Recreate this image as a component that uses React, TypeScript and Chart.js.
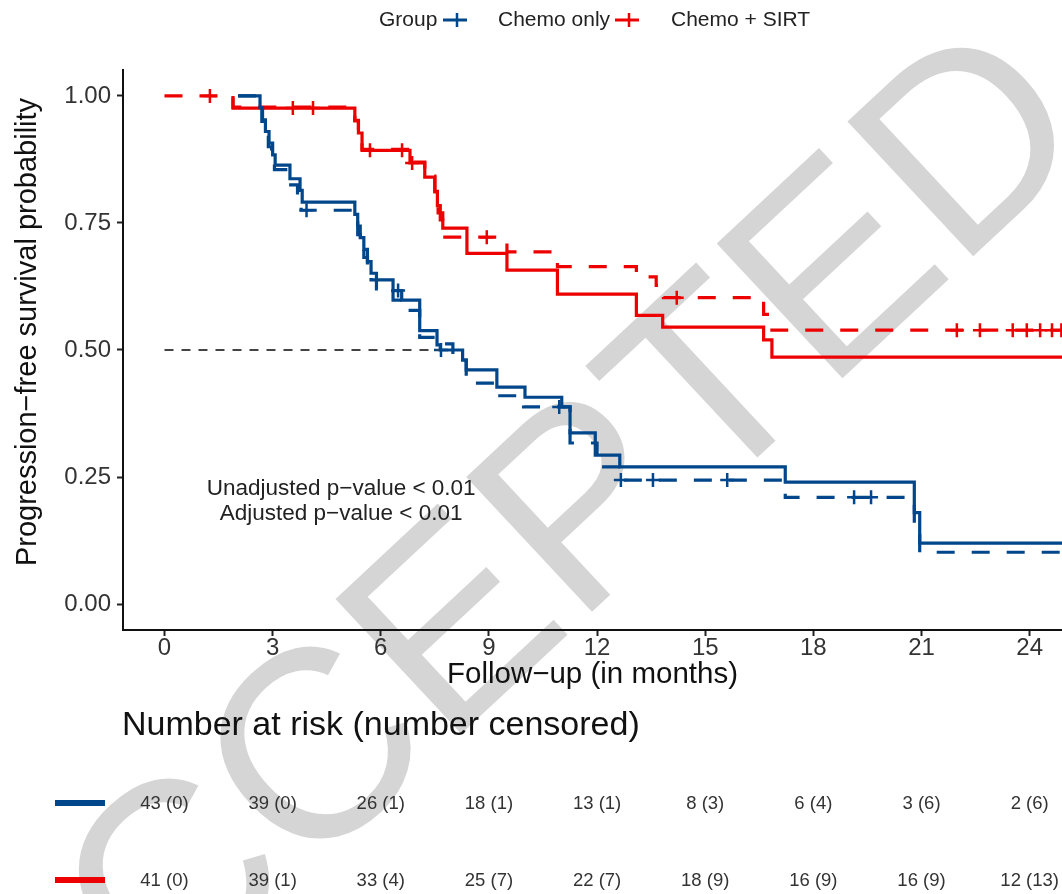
import React, { useEffect, useRef } from "react";
import { Chart, registerables } from "chart.js";

Chart.register(...registerables);

const FONT = '"Liberation Sans", Arial, Helvetica, sans-serif';
const BLUE = "#00468B";
const RED = "#ED0000";

// ---- axis ticks ----
const xTicks = [0, 3, 6, 9, 12, 15, 18, 21, 24];
const yTicks = [0, 0.25, 0.5, 0.75, 1];

// ---- Chemo only (unadjusted KM, solid) ----
const chemoOnlyTimes = [2.04, 2.65, 2.72, 2.8, 2.9, 3.0, 3.07, 3.48, 3.76, 3.82, 5.28, 5.36, 5.43, 5.53, 5.63, 5.73, 5.88, 6.34, 6.58, 7.08, 7.56, 7.65, 8.27, 8.37, 9.22, 10.0, 11.02, 11.25, 11.95, 12.63, 17.22, 20.8, 20.95, 25.0];
const chemoOnlySurv = [1.0, 0.977, 0.953, 0.93, 0.907, 0.884, 0.864, 0.837, 0.814, 0.791, 0.767, 0.744, 0.721, 0.698, 0.674, 0.651, 0.638, 0.617, 0.598, 0.538, 0.51, 0.5, 0.48, 0.461, 0.427, 0.407, 0.388, 0.337, 0.293, 0.27, 0.24, 0.18, 0.12, 0.12];

// ---- Chemo only (adjusted, dashed) ----
const chemoOnlyAdjTimes = [2.04, 2.62, 2.7, 2.78, 2.88, 2.97, 3.05, 3.44, 3.69, 3.79, 5.28, 5.36, 5.43, 5.53, 5.63, 5.73, 5.88, 6.34, 6.58, 7.08, 7.56, 8.0, 8.37, 9.22, 9.96, 11.25, 12.0, 12.59, 17.22, 20.8, 20.95, 25.0];
const chemoOnlyAdjSurv = [1.0, 0.975, 0.95, 0.925, 0.9, 0.875, 0.855, 0.825, 0.8, 0.775, 0.75, 0.727, 0.705, 0.682, 0.66, 0.638, 0.62, 0.598, 0.578, 0.525, 0.512, 0.48, 0.435, 0.41, 0.388, 0.317, 0.27, 0.244, 0.21, 0.15, 0.102, 0.102];

// ---- Chemo + SIRT (unadjusted KM, solid) ----
const sirtTimes = [1.9, 1.9, 5.28, 5.38, 5.48, 6.81, 7.22, 7.5, 7.57, 7.65, 7.72, 8.39, 9.5, 10.9, 13.09, 13.82, 16.62, 16.85, 25.0];
const sirtSurv = [1.0, 0.976, 0.951, 0.927, 0.893, 0.868, 0.84, 0.812, 0.784, 0.756, 0.74, 0.69, 0.657, 0.61, 0.568, 0.545, 0.52, 0.486, 0.486];

// ---- Chemo + SIRT (adjusted, dashed) ----
const sirtAdjTimes = [0, 1.9, 5.28, 5.38, 5.48, 6.81, 7.22, 7.5, 7.59, 7.72, 9.5, 10.9, 13.09, 13.64, 13.84, 16.62, 16.85, 25.0];
const sirtAdjSurv = [1.0, 0.978, 0.952, 0.928, 0.895, 0.87, 0.842, 0.8, 0.77, 0.722, 0.693, 0.664, 0.644, 0.627, 0.603, 0.57, 0.539, 0.539];

// ---- censoring marks ----
const chemoOnlyCensorTimes = [3.94, 6.48, 7.67, 10.95, 12.66, 13.55, 15.61, 19.13, 19.6];
const chemoOnlyCensorSurv = [0.775, 0.617, 0.5, 0.388, 0.244, 0.244, 0.244, 0.21, 0.21];
const sirtCensorTimes = [1.26, 3.56, 4.12, 5.7, 6.59, 6.87, 8.94, 14.21, 21.98, 22.62, 23.53, 23.92, 24.29, 24.62, 24.88];
const sirtCensorSurv = [1.0, 0.976, 0.976, 0.893, 0.893, 0.868, 0.722, 0.603, 0.539, 0.539, 0.539, 0.539, 0.539, 0.539, 0.539];

// ---- median reference line ----
const medianTimes = [0, 7.6];
const medianSurv = [0.5, 0.5];

// ---- number at risk table ----
const riskChemoOnly = [43, 39, 26, 18, 13, 8, 6, 3, 2];
const censChemoOnly = [0, 0, 1, 1, 1, 3, 4, 6, 6];
const riskSirt = [41, 39, 33, 25, 22, 18, 16, 16, 12];
const censSirt = [0, 1, 4, 7, 7, 9, 9, 9, 13];

const groupNames = ["Chemo only", "Chemo + SIRT"];
const pValueLines = ["Unadjusted p\u2212value < 0.01", "Adjusted p\u2212value < 0.01"];

const toPts = (t: number[], s: number[]) => t.map((v, i) => ({ x: v, y: s[i] }));

export default function App() {
  const ref = useRef<HTMLCanvasElement>(null);

  useEffect(() => {
    const canvas = ref.current!;

    const overlay = {
      id: "overlay",
      beforeDraw(chart: any) {
        const ctx = chart.ctx;
        ctx.save();
        ctx.fillStyle = "#ffffff";
        ctx.fillRect(0, 0, chart.width, chart.height);
        ctx.translate(565, 637);
        ctx.rotate((-43 * Math.PI) / 180);
        ctx.font = `268px ${FONT}`;
        ctx.fillStyle = "#d5d5d5";
        ctx.textAlign = "center";
        ctx.textBaseline = "alphabetic";
        ctx.fillText("ACCEPTED", 0, 0);
        ctx.restore();
      },
      afterDraw(chart: any) {
        const ctx = chart.ctx;
        const xs = chart.scales.x;
        const ys = chart.scales.y;
        const area = chart.chartArea;
        ctx.save();

        // y axis title
        ctx.save();
        ctx.translate(28, 332);
        ctx.rotate(-Math.PI / 2);
        ctx.font = `29px ${FONT}`;
        ctx.fillStyle = "#111";
        ctx.textAlign = "center";
        ctx.textBaseline = "middle";
        ctx.fillText("Progression\u2212free survival probability", 0, 0);
        ctx.restore();

        // legend
        ctx.textBaseline = "middle";
        ctx.textAlign = "left";
        ctx.font = `21px ${FONT}`;
        ctx.fillStyle = "#222";
        const ly = 20;
        ctx.fillText("Group", 379, ly);
        const sym = (cx: number, color: string) => {
          ctx.strokeStyle = color;
          ctx.lineWidth = 3;
          ctx.beginPath();
          ctx.moveTo(cx - 12, ly);
          ctx.lineTo(cx + 12, ly);
          ctx.stroke();
          ctx.lineWidth = 2.5;
          ctx.beginPath();
          ctx.moveTo(cx + 2, ly - 7);
          ctx.lineTo(cx + 2, ly + 7);
          ctx.stroke();
        };
        sym(455, BLUE);
        ctx.fillText(groupNames[0], 498, ly);
        sym(627, RED);
        ctx.fillText(groupNames[1], 671, ly);

        // p-values
        ctx.font = `22.5px ${FONT}`;
        ctx.textAlign = "center";
        ctx.fillStyle = "#222";
        ctx.fillText(pValueLines[0], xs.getPixelForValue(4.9), ys.getPixelForValue(0.226));
        ctx.fillText(pValueLines[1], xs.getPixelForValue(4.9), ys.getPixelForValue(0.177));

        // risk table
        ctx.textAlign = "left";
        ctx.font = `34px ${FONT}`;
        ctx.fillStyle = "#111";
        ctx.fillText("Number at risk (number censored)", area.left - 1, 726);

        const rows = [
          { y: 803, color: BLUE, risk: riskChemoOnly, cens: censChemoOnly },
          { y: 880, color: RED, risk: riskSirt, cens: censSirt },
        ];
        rows.forEach((r) => {
          ctx.strokeStyle = r.color;
          ctx.lineWidth = 6;
          ctx.beginPath();
          ctx.moveTo(55, r.y);
          ctx.lineTo(105, r.y);
          ctx.stroke();
          ctx.font = `18.5px ${FONT}`;
          ctx.fillStyle = "#333";
          ctx.textAlign = "center";
          xTicks.forEach((t, i) => {
            ctx.fillText(`${r.risk[i]} (${r.cens[i]})`, xs.getPixelForValue(t), r.y + 1);
          });
        });
        ctx.restore();
      },
    };

    const kmLine = (label: string, t: number[], s: number[], color: string, dashed: boolean) => ({
      type: "line" as const,
      label,
      data: toPts(t, s),
      borderColor: color,
      backgroundColor: color,
      borderWidth: 3.2,
      borderDash: dashed ? [18, 17] : [],
      stepped: true,
      pointRadius: 0,
      fill: false,
    });
    const censor = (label: string, t: number[], s: number[], color: string) => ({
      type: "scatter" as const,
      label,
      data: toPts(t, s),
      borderColor: color,
      backgroundColor: color,
      pointStyle: "cross",
      pointRadius: 7,
      pointBorderWidth: 2.5,
      borderWidth: 2.5,
      showLine: false,
    });

    const chart = new Chart(canvas, {
      type: "line",
      data: {
        datasets: [
          {
            type: "line",
            label: "median",
            data: toPts(medianTimes, medianSurv),
            borderColor: "#444",
            borderWidth: 2,
            borderDash: [9, 8],
            pointRadius: 0,
            fill: false,
          },
          kmLine("Chemo only", chemoOnlyTimes, chemoOnlySurv, BLUE, false),
          kmLine("Chemo only (adjusted)", chemoOnlyAdjTimes, chemoOnlyAdjSurv, BLUE, true),
          kmLine("Chemo + SIRT", sirtTimes, sirtSurv, RED, false),
          kmLine("Chemo + SIRT (adjusted)", sirtAdjTimes, sirtAdjSurv, RED, true),
          censor("Chemo only censored", chemoOnlyCensorTimes, chemoOnlyCensorSurv, BLUE),
          censor("Chemo + SIRT censored", sirtCensorTimes, sirtCensorSurv, RED),
        ] as any,
      },
      options: {
        animation: false,
        responsive: false,
        devicePixelRatio: 1,
        layout: { autoPadding: false, padding: { top: 70, left: 0, right: 0, bottom: 0 } },
        plugins: { legend: { display: false }, tooltip: { enabled: false } },
        scales: {
          x: {
            type: "linear",
            min: -1.151,
            max: 24.897,
            afterFit: (s: any) => {
              s.height = 264;
            },
            afterBuildTicks: (s: any) => {
              s.ticks = xTicks.map((v) => ({ value: v }));
            },
            ticks: {
              font: { family: FONT, size: 24, lineHeight: 1 },
              color: "#333",
              padding: 0,
              autoSkip: false,
              maxRotation: 0,
              callback: (v: any) => String(v),
            },
            grid: { display: true, drawOnChartArea: false, drawTicks: true, tickLength: 6, tickWidth: 2, tickColor: "#222" },
            border: { display: true, color: "#111", width: 2 },
            title: {
              display: true,
              text: "Follow\u2212up (in months)",
              font: { family: FONT, size: 29.5 },
              color: "#111",
              padding: { top: 0, bottom: 201 },
            },
          },
          y: {
            type: "linear",
            min: -0.051,
            max: 1.051,
            afterFit: (s: any) => {
              s.width = 123;
            },
            afterBuildTicks: (s: any) => {
              s.ticks = yTicks.map((v) => ({ value: v }));
            },
            ticks: {
              font: { family: FONT, size: 24, lineHeight: 1 },
              color: "#333",
              padding: 6,
              callback: (v: any) => Number(v).toFixed(2),
            },
            grid: { display: true, drawOnChartArea: false, drawTicks: true, tickLength: 6, tickWidth: 2, tickColor: "#222" },
            border: { display: true, color: "#111", width: 2 },
            title: { display: false },
          },
        },
      } as any,
      plugins: [overlay],
    });

    return () => chart.destroy();
  }, []);

  return (
    <div style={{ position: "absolute", left: 0, top: 0, width: 1062, height: 894, background: "#fff" }}>
      <canvas ref={ref} width={1062} height={894} style={{ display: "block", width: 1062, height: 894 }} />
    </div>
  );
}
